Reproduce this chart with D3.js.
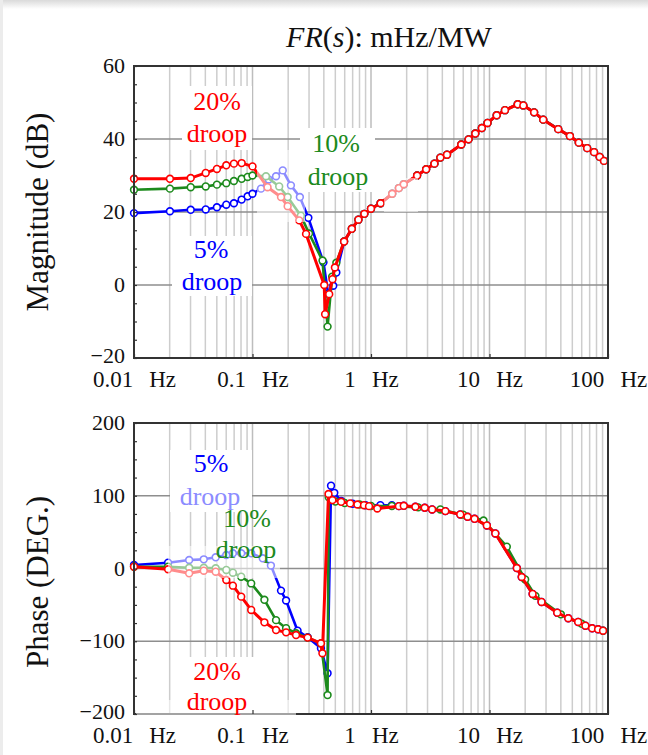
<!DOCTYPE html>
<html>
<head>
<meta charset="utf-8">
<script src="https://d3js.org/d3.v7.min.js"></script>
<style>
body { margin: 0; background: #fff; }
svg { display: block; font-family: "Liberation Serif", "Times New Roman", serif; }
</style>
</head>
<body>
<div id="chart"></div>
<script>
//data - frequencies in Hz, magnitude in dB, phase in degrees

var freq_ticks = [0.01, 0.1, 1, 10, 100];
var mag_ticks = [60, 40, 20, 0, -20];
var phase_ticks = [200, 100, 0, -100, -200];

// above ~0.6 Hz the three magnitude curves lie on top of each other
var tail_mag_f = [0.593,0.689,0.783,0.879,1.0,1.205,1.51,1.72,1.89,2.45,2.92,3.43,3.85,4.38,5.78,6.66,7.59,8.62,9.62,11.5,13.5,17.3,19.3,23.8,28.4,38.0,47.7,56.7,66.7,76.3,85.1,92.5];
var tail_mag_db = [11.9,15.4,17.9,19.5,20.9,22.4,25.0,26.55,27.6,30.0,31.7,33.25,34.9,35.7,38.5,39.9,41.5,43.0,44.4,46.5,47.9,49.5,49.2,47.3,45.3,42.7,40.8,39.0,37.5,36.4,35.1,34.0];
// above ~1.7 Hz the red and blue phase curves lie on top of each other
var tail_ph_f = [1.72,1.89,2.37,2.84,3.28,4.24,5.67,6.53,7.48,9.50,11.2,17.0,18.7,23.1,27.5,37.3,46.2,56.0,64.5,73.5,82.5,90.8];
var tail_ph_deg = [85.7,86.2,84.8,83.5,81.2,78.9,74.3,71.1,68.3,59.2,48.2,0.7,-11.7,-35,-46,-60.7,-68.4,-73.5,-78.6,-82.2,-83.6,-85.5];

// 20% droop (red)
var red_mag_f = [0.01,0.0201,0.0301,0.0403,0.0501,0.0601,0.0697,0.081,0.1,0.134,0.174,0.198,0.248,0.283,0.403,0.41,0.444,0.473,0.496];
var red_mag_db = [29.1,29.1,29.3,30.7,31.8,32.8,33.25,33.4,32.5,26.8,24.1,21.6,17.7,14.0,0.0,-8.0,-2.5,1.6,4.8];
var red_ph_f = [0.01,0.0194,0.0292,0.0388,0.0489,0.0601,0.0683,0.0803,0.0975,0.126,0.158,0.192,0.233,0.292,0.378,0.389,0.438,0.473,0.56,0.667,0.768,0.873,0.962,1.13];
var red_ph_deg = [2.5,-1,-6.6,-3,-4.4,-15.8,-23.6,-38.7,-57,-74,-84.6,-87.8,-91.5,-95,-102.8,-116.5,102.4,94,91.7,89.5,88,87,85.7,82.5];

// 10% droop (green)
var green_mag_f = [0.01,0.0201,0.0301,0.0403,0.0501,0.0601,0.0697,0.081,0.091,0.1,0.13,0.168,0.198,0.256,0.30,0.39,0.43,0.47,0.51];
var green_mag_db = [26.1,26.4,26.8,27.0,27.5,27.9,28.5,29.1,29.6,30.0,29.8,27.0,24.1,19.0,14.1,6.7,-11.4,2.3,6.1];
var green_ph_f = [0.01,0.0194,0.0292,0.0388,0.0489,0.0601,0.0683,0.0803,0.0975,0.126,0.158,0.192,0.233,0.292,0.378,0.43,0.44,0.5,0.6,0.8,1.0,1.5,2.5,3.85,6,8.9,14,20,24.4,40,60,90.8];
var green_ph_deg = [2.5,2.5,1,1,0.3,-2,-5.8,-11.3,-20.5,-43,-71,-82,-89,-95,-103,-174,98,92,90,88,86,86,84,81.2,74,66,30,-15,-37.6,-63,-76,-85.5];

// 5% droop (blue)
var blue_mag_f = [0.01,0.0201,0.0301,0.0403,0.0501,0.0601,0.0697,0.081,0.091,0.1,0.118,0.137,0.158,0.18,0.211,0.251,0.296,0.397,0.435,0.48,0.51];
var blue_mag_db = [19.7,20.2,20.6,20.7,21.3,22.0,22.4,23.4,24.3,25.0,26.4,28.9,29.8,31.4,27.3,24.1,18.4,6.2,-2.4,-0.2,3.4];
var blue_ph_f = [0.01,0.0194,0.0292,0.0388,0.0489,0.0601,0.0683,0.0803,0.0975,0.122,0.143,0.174,0.192,0.240,0.292,0.378,0.43,0.46,0.49,0.56,0.7,0.9,1.2,1.5];
var blue_ph_deg = [4.8,8,11.7,12.6,15.4,18.5,20.9,20.9,20.9,14,4,-30.4,-44,-85.5,-94.5,-109.6,-144,113.8,104,93,89,87,87,87];

//width and height
var chart_width = 648;
var chart_height = 755;

var svg = d3.select("#chart")
            .append("svg")
            .attr("width", chart_width)
            .attr("height", chart_height);

// faint grey shadow along the top and left edges
var defs = svg.append("defs");
var grad = defs.append("linearGradient")
            .attr("id", "topshade")
            .attr("x1", 0).attr("y1", 0).attr("x2", 0).attr("y2", 1);
grad.append("stop").attr("offset", "0%").attr("stop-color", "#dadada");
grad.append("stop").attr("offset", "100%").attr("stop-color", "#ffffff");
svg.append("rect").attr("x", 0).attr("y", 0).attr("width", chart_width).attr("height", 9)
    .attr("fill", "url(#topshade)");
svg.append("rect").attr("x", 0).attr("y", 0).attr("width", 3).attr("height", chart_height)
    .attr("fill", "#ececec");

var x = d3.scaleLog().domain([0.01, 100]).range([134, 608]);

var pairs = function(f, v) { return d3.zip(f, v); };

var series = [
    { color: "#0000ff", width: 2.6,
      mag: pairs(blue_mag_f.concat(tail_mag_f), blue_mag_db.concat(tail_mag_db)),
      phase: pairs(blue_ph_f.concat(tail_ph_f), blue_ph_deg.concat(tail_ph_deg)) },
    { color: "#1c8a1c", width: 2.6,
      mag: pairs(green_mag_f.concat(tail_mag_f), green_mag_db.concat(tail_mag_db)),
      phase: pairs(green_ph_f, green_ph_deg) },
    { color: "#ff0000", width: 3,
      mag: pairs(red_mag_f.concat(tail_mag_f), red_mag_db.concat(tail_mag_db)),
      phase: pairs(red_ph_f.concat(tail_ph_f), red_ph_deg.concat(tail_ph_deg)) }
];

var panels = [
    {
        key: "mag", top: 66, bottom: 358, domain: [-20, 60], ticks: mag_ticks, grid: [40, 20, 0], minor: 5,
        title: "Magnitude (dB)", title_y: 212,
        boxes: [[182, 86, 70, 64], [300, 128, 75, 64], [172, 236, 80, 60]],
        veils: [[257, 150, 48, 72], [384, 178, 34, 34]],
        labels: [
            ["20%", "#ff0000", 217, 110], ["droop", "#ff0000", 217, 142],
            ["10%", "#1c8a1c", 336, 152], ["droop", "#1c8a1c", 338, 185],
            ["5%", "#0000ff", 211, 258], ["droop", "#0000ff", 212, 290]
        ]
    },
    {
        key: "phase", top: 423, bottom: 714, domain: [-200, 200], ticks: phase_ticks, grid: [100, 0, -100], minor: 25,
        title: "Phase (DEG.)", title_y: 582,
        boxes: [[170, 450, 82, 62], [175, 657, 85, 56]],
        veils: [[168, 546, 112, 32], [136, 700, 160, 16]],
        labels: [
            ["5%", "#0000ff", 211, 472], ["droop", "#8c8cff", 210, 505],
            ["10%", "#1c8a1c", 247, 527], ["droop", "#1c8a1c", 246, 558],
            ["20%", "#ff0000", 217, 680], ["droop", "#ff0000", 217, 710]
        ]
    }
];

// vertical grid positions: 2..9 in every decade
var minor_freqs = [];
freq_ticks.slice(0, -1).forEach(function(dec) {
    for (var k = 2; k <= 9; k++) { minor_freqs.push(dec * k); }
});

panels.forEach(function(p) {
    var y = d3.scaleLinear().domain(p.domain).range([p.bottom, p.top]);
    var g = svg.append("g").attr("id", p.key);

    // grid
    g.selectAll(".vminor")
        .data(minor_freqs)
        .enter()
        .append("line")
        .attr("x1", function(d) { return x(d); })
        .attr("x2", function(d) { return x(d); })
        .attr("y1", p.top)
        .attr("y2", p.bottom)
        .attr("stroke", "#cdcdcd")
        .attr("stroke-width", 1.5);

    g.selectAll(".vmajor")
        .data(freq_ticks)
        .enter()
        .append("line")
        .attr("x1", function(d) { return x(d); })
        .attr("x2", function(d) { return x(d); })
        .attr("y1", p.top)
        .attr("y2", p.bottom)
        .attr("stroke", "#bdbdbd")
        .attr("stroke-width", 1.5);

    g.selectAll(".hgrid")
        .data(p.grid)
        .enter()
        .append("line")
        .attr("x1", x.range()[0])
        .attr("x2", x.range()[1])
        .attr("y1", function(d) { return y(d); })
        .attr("y2", function(d) { return y(d); })
        .attr("stroke", "#8e8e8e")
        .attr("stroke-width", 1.4);

    // white patches behind the droop labels
    g.selectAll(".box")
        .data(p.boxes)
        .enter()
        .append("rect")
        .attr("x", function(d) { return d[0]; })
        .attr("y", function(d) { return d[1]; })
        .attr("width", function(d) { return d[2]; })
        .attr("height", function(d) { return d[3]; })
        .attr("fill", "#fff");

    var line = d3.line()
                .x(function(d) { return x(d[0]); })
                .y(function(d) { return y(d[1]); });

    series.forEach(function(s) {
        var pts = s[p.key];
        g.append("path")
            .datum(pts)
            .attr("d", line)
            .attr("fill", "none")
            .attr("stroke", s.color)
            .attr("stroke-width", s.width)
            .attr("stroke-linejoin", "round");

        g.selectAll(null)
            .data(pts)
            .enter()
            .append("circle")
            .attr("cx", function(d) { return x(d[0]); })
            .attr("cy", function(d) { return y(d[1]); })
            .attr("r", 3.4)
            .attr("fill", "#fff")
            .attr("stroke", s.color)
            .attr("stroke-width", 1.6);
    });

    // frame
    g.append("rect")
        .attr("x", x.range()[0])
        .attr("y", p.top)
        .attr("width", x.range()[1] - x.range()[0])
        .attr("height", p.bottom - p.top)
        .attr("fill", "none")
        .attr("stroke", "#333")
        .attr("stroke-width", 2);

    // faded patches (the source figure has translucent boxes here)
    g.selectAll(".veil")
        .data(p.veils)
        .enter()
        .append("rect")
        .attr("x", function(d) { return d[0]; })
        .attr("y", function(d) { return d[1]; })
        .attr("width", function(d) { return d[2]; })
        .attr("height", function(d) { return d[3]; })
        .attr("fill", "#fff")
        .attr("opacity", 0.55);

    // minor ticks on the left edge
    g.append("g")
        .attr("transform", "translate(" + x.range()[0] + ",0)")
        .call(d3.axisLeft(y).tickValues(d3.range(p.domain[0], p.domain[1] + 1, p.minor))
                .tickSize(-3).tickFormat(""))
        .call(function(a) { a.select(".domain").remove(); })
        .selectAll("line").attr("stroke", "#333").attr("stroke-width", 1.2);

    // y axis labels
    var yAxis = g.append("g")
        .attr("transform", "translate(" + x.range()[0] + ",0)")
        .call(d3.axisLeft(y).tickValues(p.ticks).tickSize(0).tickPadding(9)
                .tickFormat(function(d) { return d < 0 ? "\u2212" + Math.abs(d) : d; }));
    yAxis.select(".domain").remove();
    yAxis.selectAll("text")
        .attr("font-family", "Liberation Serif")
        .attr("font-size", 22)
        .attr("dy", function(d) { return d === p.domain[0] ? "0.2em" : "0.3em"; })
        .attr("fill", "#111");

    // x axis
    var xAxis = g.append("g")
        .attr("transform", "translate(0," + p.bottom + ")")
        .call(d3.axisBottom(x).tickValues(freq_ticks).tickSize(-4).tickPadding(13)
                .tickFormat(function(d) { return d + "\u00a0\u00a0\u2009Hz"; }));
    xAxis.select(".domain").remove();
    xAxis.selectAll("line").attr("stroke", "#333").attr("stroke-width", 1.2);
    xAxis.selectAll("text")
        .attr("font-family", "Liberation Serif")
        .attr("font-size", 23)
        .attr("fill", "#111");

    // axis title
    svg.append("text")
        .attr("transform", "translate(48," + p.title_y + ") rotate(-90)")
        .attr("text-anchor", "middle")
        .attr("font-size", 31)
        .attr("fill", "#111")
        .text(p.title);

    // droop labels
    g.selectAll(".lbl")
        .data(p.labels)
        .enter()
        .append("text")
        .attr("x", function(d) { return d[2]; })
        .attr("y", function(d) { return d[3]; })
        .attr("text-anchor", "middle")
        .attr("font-size", 26)
        .attr("fill", function(d) { return d[1]; })
        .text(function(d) { return d[0]; });
});

// title
var title = svg.append("text")
            .attr("x", 389)
            .attr("y", 47)
            .attr("text-anchor", "middle")
            .attr("font-size", 30)
            .attr("fill", "#111");
title.append("tspan").attr("font-style", "italic").text("FR");
title.append("tspan").text("(");
title.append("tspan").attr("font-style", "italic").text("s");
title.append("tspan").text("): mHz/MW");
</script>
</body>
</html>
